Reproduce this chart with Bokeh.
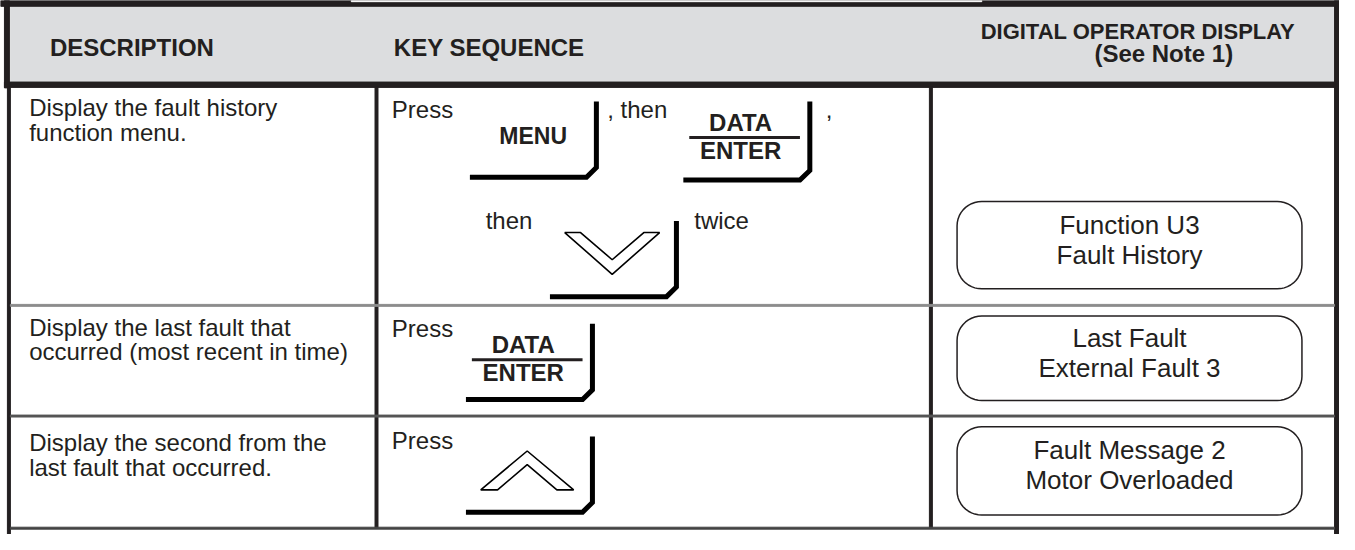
import numpy as np
from bokeh.plotting import figure
from bokeh.models import Range1d
from bokeh.core.properties import value
from bokeh.embed import file_html
from bokeh.resources import INLINE

# ---------------- content ----------------
header_labels = ["DESCRIPTION", "KEY SEQUENCE"]
display_header = ["DIGITAL OPERATOR DISPLAY", "(See Note 1)"]
descriptions = [
    ["Display the fault history", "function menu."],
    ["Display the last fault that", "occurred (most recent in time)"],
    ["Display the second from the", "last fault that occurred."],
]
display_lines = [
    ["Function U3", "Fault History"],
    ["Last Fault", "External Fault 3"],
    ["Fault Message 2", "Motor Overloaded"],
]
seq_words = ["Press", ", then", ",", "then", "twice", "Press", "Press"]
key_names = ["MENU", "DATA/ENTER", "DOWN", "DATA/ENTER", "UP"]

# ---------------- layout (reference pixel space) ----------------
W, H = 1355, 550
DARK = "#231f20"
GRAY = "#dcdddf"
FONT = value("Liberation Sans")

col_div = [380.5, 941.5]
row_tops = [90, 314, 428]
row_bottom = 543.5
box_x = (968, 1317)
box_y = [(207, 297), (325, 412), (439, 530)]

p = figure(width=1339, height=534, x_range=Range1d(0, W), y_range=Range1d(H, 0),
           output_backend="svg", toolbar_location=None, min_border=0,
           x_axis_location=None, y_axis_location=None)
p.grid.visible = False
p.outline_line_color = None
p.background_fill_color = "white"
p.border_fill_color = "white"


def add_text(xs, ys, texts, size, bold=False, align="left"):
    # the renderer draws the alphabetic baseline ~0.39 em below the anchor; compensate
    shift = 0.39 * size
    p.text(x=list(xs), y=[y - shift for y in ys], text=list(texts), text_font=FONT,
           text_font_size=f"{size}px", text_font_style="bold" if bold else "normal",
           text_color=DARK, text_align=align, text_baseline="alphabetic")


# frame and header
p.quad(left=[0], right=[W], top=[0], bottom=[6], color=DARK)
p.quad(left=[355], right=[993], top=[0], bottom=[1.2], color="white")
p.quad(left=[10], right=[1349], top=[7.2], bottom=[83.5], color=GRAY)
p.quad(left=[4], right=[W], top=[84], bottom=[89.5], color=DARK)
p.quad(left=[4, 7, 1350], right=[9, 10, W], top=[0, 89, 0], bottom=[90, H, H], color=DARK)

# column dividers
p.quad(left=[c - 1.5 for c in col_div], right=[c + 1.5 for c in col_div],
       top=[89] * 2, bottom=[row_bottom] * 2, color=DARK)
# row dividers
p.quad(left=[10, 10, 10], right=[1350] * 3,
       top=[row_tops[1] - 1, row_tops[2] - 1, row_bottom - 1],
       bottom=[row_tops[1] + 1, row_tops[2] + 1, row_bottom + 1],
       color=["#8c8c8c", "#555555", "#444444"])

# header texts
add_text([50, 398], [58, 58], header_labels, 24, bold=True)
add_text([1151], [40], [display_header[0]], 22, bold=True, align="center")
add_text([1107], [64], [display_header[1]], 24, bold=True)

# descriptions
desc_base = [120, 346, 465]
dx, dy, dt = [], [], []
for base, lines in zip(desc_base, descriptions):
    for i, t in enumerate(lines):
        dx.append(29); dy.append(base + 25 * i); dt.append(t)
add_text(dx, dy, dt, 24)

# key sequence words
word_x = [396, 614, 835, 491, 702, 396, 396]
word_y = [122, 122, 122, 236, 236, 347, 463]
add_text(word_x, word_y, seq_words, 24)

# keys: (x_left, x_right, y_top, y_bottom)
keys = [(475, 603, 104, 182), (691, 819, 104, 185), (556, 684, 227, 305),
        (471, 599, 333, 411), (471, 599, 449, 527)]
ch = 10
kxs, kys = [], []
for (xl, xr, yt, yb) in keys:
    kxs.append([xl, xr - ch, xr, xr])
    kys.append([yb, yb, yb - ch, yt])
p.multi_line(xs=kxs, ys=kys, line_color="black", line_width=5, line_join="miter")

# key labels
menu_x, menu_y, menu_t = [], [], []
de_x, de_y, de_t = [], [], []
fr_xs, fr_ys = [], []
for name, (xl, xr, yt, yb) in zip(key_names, keys):
    cx = (xl + xr) / 2
    if name == "MENU":
        menu_x.append(cx); menu_y.append(yt + 45); menu_t.append("MENU")
    elif name == "DATA/ENTER":
        top_t, bot_t = name.split("/")
        de_x += [cx - 6, cx - 6]; de_y += [yt + 31, yt + 60]; de_t += [top_t, bot_t]
        fr_xs.append([xl + 6, xr - 10]); fr_ys.append([yt + 37, yt + 37])
add_text(menu_x, menu_y, menu_t, 23, bold=True, align="center")
add_text(de_x, de_y, de_t, 24, bold=True, align="center")
p.multi_line(xs=fr_xs, ys=fr_ys, line_color=DARK, line_width=3)


# chevrons (outlined)
def chevron(cx, y_tip, y_base, half, arm, inner_drop, up):
    s = -1 if up else 1
    xs = [cx - half, cx, cx + half, cx + half - arm, cx, cx - half + arm]
    ys = [y_base, y_tip, y_base, y_base, y_tip - s * inner_drop, y_base]
    return xs, ys


down = keys[2]
up = keys[4]
x1, y1 = chevron((down[0] + down[1]) / 2 - 1, 282, 239, 48, 16, 15, up=False)
x2, y2 = chevron((up[0] + up[1]) / 2 - 2, 464, 504, 47, 17, 14, up=True)
p.patches(xs=[x1, x2], ys=[y1, y2], fill_color="white", line_color="black", line_width=1.6)


# display boxes (rounded rectangles)
def rounded(x0, x1, y0, y1, r, n=12):
    xs, ys = [], []
    corners = [(x1 - r, y0 + r, -90, 0), (x1 - r, y1 - r, 0, 90),
               (x0 + r, y1 - r, 90, 180), (x0 + r, y0 + r, 180, 270)]
    for cx, cy, a0, a1 in corners:
        a = np.radians(np.linspace(a0, a1, n))
        xs += list(cx + r * np.cos(a)); ys += list(cy + r * np.sin(a))
    return xs, ys


bxs, bys = [], []
for (y0, y1) in box_y:
    xs, ys = rounded(box_x[0], box_x[1], y0, y1, 25)
    bxs.append(xs); bys.append(ys)
p.patches(xs=bxs, ys=bys, fill_color="white", line_color=DARK, line_width=1.5)

tx, ty, tt = [], [], []
for (y0, y1), lines in zip(box_y, display_lines):
    c = (y0 + y1) / 2
    tx += [(box_x[0] + box_x[1]) / 2] * 2
    ty += [c - 11, c + 20]
    tt += lines
add_text(tx, ty, tt, 26, align="center")

open("out.html", "w").write(file_html(p, INLINE))
